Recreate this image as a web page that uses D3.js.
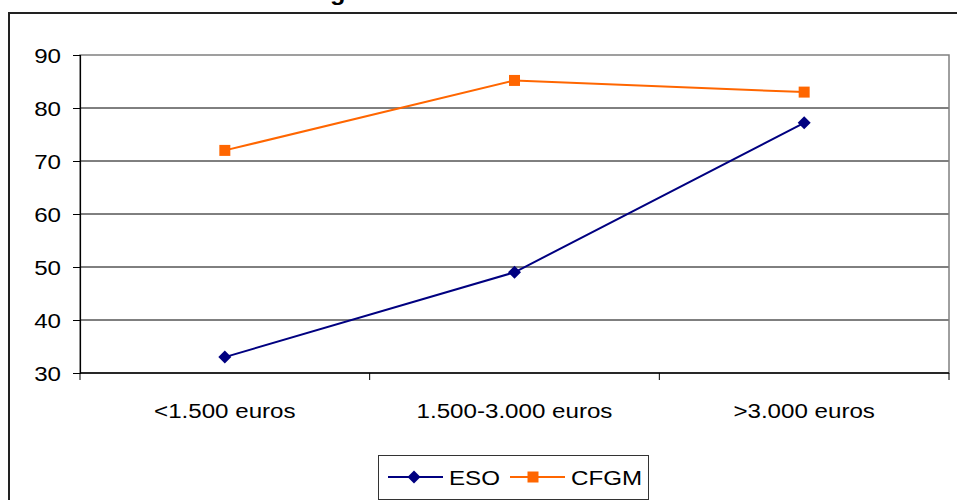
<!DOCTYPE html>
<html>
<head>
<meta charset="utf-8">
<script src="https://cdn.jsdelivr.net/npm/d3@7"></script>
<style>
  body { margin: 0; background: #fff; }
  text { font-family: "Liberation Sans", Arial, sans-serif; fill: #000; }
</style>
</head>
<body>
<script>
// data
var categories = ["<1.500 euros", "1.500-3.000 euros", ">3.000 euros"]
var esoValues = [33, 49, 77.2]
var cfgmValues = [72, 85.2, 83]
var yTicks = [30, 40, 50, 60, 70, 80, 90]

var W = 957, H = 500
var svg = d3.select("body").append("svg").attr("width", W).attr("height", H)

var plotLeft = 80, plotRight = 949, plotTop = 55, plotBottom = 373
var stretch = 1.15

var x = d3.scaleBand().domain(categories).range([plotLeft, plotRight]).padding(0)
var y = d3.scaleLinear().domain([30, 90]).range([plotBottom, plotTop])

// helper for the slightly wide text of the original
function wideText(g, tx, ty, str, anchor, size, weight) {
  return g.append("text")
    .attr("transform", "translate(" + tx + "," + ty + ") scale(" + stretch + ",1)")
    .attr("text-anchor", anchor)
    .attr("font-size", size)
    .attr("font-weight", weight || "normal")
    .text(str)
}

// chart frame
svg.append("rect")
  .attr("x", 9).attr("y", 13)
  .attr("width", W + 20).attr("height", H + 20)
  .attr("fill", "none").attr("stroke", "#222").attr("stroke-width", 2)

// title (cut off at the top)
var titleStr = "Nivel de ingresos familiares"
var tmp = svg.append("text").attr("font-size", 22).attr("font-weight", "bold").text("Nivel de in")
var pre = tmp.node().getComputedTextLength() * stretch
tmp.remove()
wideText(svg, 333 - pre - 3, 0, titleStr, "start", 22, "bold")

// gridlines
svg.append("g").selectAll("line")
  .data(yTicks.filter(function(d) { return d > 30 && d < 90 }))
  .join("line")
  .attr("x1", plotLeft).attr("x2", plotRight)
  .attr("y1", function(d) { return y(d) }).attr("y2", function(d) { return y(d) })
  .attr("stroke", "#000").attr("stroke-width", 1)

// plot area border (gray)
svg.append("rect")
  .attr("x", plotLeft).attr("y", plotTop)
  .attr("width", plotRight - plotLeft).attr("height", plotBottom - plotTop)
  .attr("fill", "none").attr("stroke", "#808080").attr("stroke-width", 1.5)

// y axis
var yAxis = d3.axisLeft(y).tickValues(yTicks).tickSize(7).tickFormat("")
var yg = svg.append("g").attr("transform", "translate(" + plotLeft + ",0)").call(yAxis)
yg.select(".domain").attr("stroke", "#000").attr("stroke-width", 1.2)
yg.selectAll(".tick line").attr("stroke", "#000")
yTicks.forEach(function(t) {
  wideText(svg, 61, y(t) + 7.5, String(t), "end", 21)
})

// x axis
svg.append("line")
  .attr("x1", plotLeft).attr("x2", plotRight).attr("y1", plotBottom).attr("y2", plotBottom)
  .attr("stroke", "#000").attr("stroke-width", 1.5)
var bounds = categories.map(function(c) { return x(c) }).concat([plotRight])
svg.append("g").selectAll("line")
  .data(bounds)
  .join("line")
  .attr("x1", function(d) { return d }).attr("x2", function(d) { return d })
  .attr("y1", plotBottom).attr("y2", plotBottom + 7)
  .attr("stroke", "#000")
categories.forEach(function(c) {
  wideText(svg, x(c) + x.bandwidth() / 2, 418, c, "middle", 21)
})

// lines
var cx = function(i) { return x(categories[i]) + x.bandwidth() / 2 }
var line = d3.line()
  .x(function(d, i) { return cx(i) })
  .y(function(d) { return y(d) })

var esoColor = "#000080", cfgmColor = "#FF6600"

svg.append("path").attr("d", line(esoValues))
  .attr("fill", "none").attr("stroke", esoColor).attr("stroke-width", 2)
svg.append("path").attr("d", line(cfgmValues))
  .attr("fill", "none").attr("stroke", cfgmColor).attr("stroke-width", 2)

var diamond = "M0,-6.5L6.5,0L0,6.5L-6.5,0Z"
var square = "M-5.5,-5.5H5.5V5.5H-5.5Z"

svg.append("g").selectAll("path")
  .data(esoValues)
  .join("path")
  .attr("d", diamond)
  .attr("transform", function(d, i) { return "translate(" + cx(i) + "," + y(d) + ")" })
  .attr("fill", esoColor)
svg.append("g").selectAll("path")
  .data(cfgmValues)
  .join("path")
  .attr("d", square)
  .attr("transform", function(d, i) { return "translate(" + cx(i) + "," + y(d) + ")" })
  .attr("fill", cfgmColor)

// legend
var lg = svg.append("g")
lg.append("rect").attr("x", 378.5).attr("y", 455.5).attr("width", 270).attr("height", 44)
  .attr("fill", "#fff").attr("stroke", "#333").attr("stroke-width", 1)
lg.append("line").attr("x1", 388).attr("x2", 443).attr("y1", 477).attr("y2", 477)
  .attr("stroke", esoColor).attr("stroke-width", 2)
lg.append("path").attr("d", diamond).attr("transform", "translate(414,477)").attr("fill", esoColor)
wideText(lg, 449, 485, "ESO", "start", 21)
lg.append("line").attr("x1", 510).attr("x2", 565).attr("y1", 477).attr("y2", 477)
  .attr("stroke", cfgmColor).attr("stroke-width", 2)
lg.append("path").attr("d", square).attr("transform", "translate(533,477)").attr("fill", cfgmColor)
wideText(lg, 571, 485, "CFGM", "start", 21)
</script>
</body>
</html>
